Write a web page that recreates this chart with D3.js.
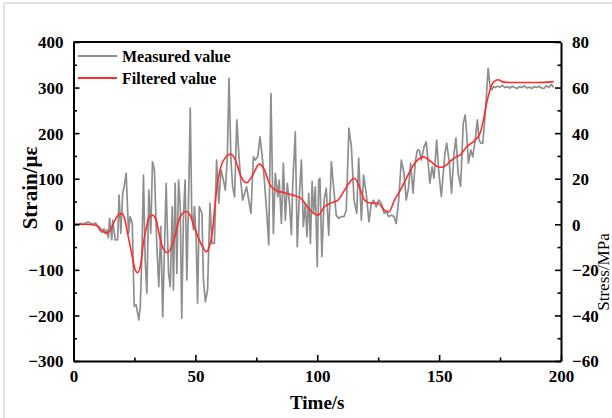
<!DOCTYPE html>
<html><head><meta charset="utf-8">
<script src="https://cdn.jsdelivr.net/npm/d3@7"></script>
<style>
html,body{margin:0;padding:0;background:#fff;}
svg{display:block;}
text{font-family:"Liberation Serif","Times New Roman",serif;}
</style></head>
<body>
<script>
// ---- Data ----
const measuredTime = [0,1,2,3,4,5,6,7,8,9,10,10.5,11.2,11.8,12.5,13.1,13.7,14.3,14.8,15.7,16.1,17.1,18.1,18.7,19.4,20.2,20.8,21.6,22.6,23.2,24.1,24.9,25.7,26.3,26.8,27.4,28,28.7,29.4,30.1,30.9,31.7,32.4,33.2,34.2,35,35.8,36.6,37.2,38,39,39.7,40.5,41,41.7,42.4,43.1,43.8,44.4,45.1,45.8,46.5,47.2,47.9,48.5,49.2,49.6,50.3,50.9,51.6,52.7,53.3,54.1,55,56,56.8,57.8,58.7,59.6,60.5,61.5,62.3,63.1,63.8,64.6,65.3,66.1,67,67.8,68.6,69.4,70.2,71,71.9,72.8,73.8,74.6,75.6,76.5,77.3,78.3,79.3,80.1,81,82,82.8,83.8,84.4,85.3,86.1,86.9,87.7,88.6,89.4,89.9,91,91.8,92.7,93.5,94.3,95.1,95.8,96.5,97.2,97.9,98.5,99.2,100,100.6,101.1,101.9,102.8,103.7,104.7,105.8,106.7,107.8,108.8,109.9,111,111.9,113,114,115.1,116.2,117,118.1,119,120.1,121.2,122.2,123.1,124.2,125.2,126.3,127.4,128.3,129.3,130.4,131.5,132.4,133.4,134.5,135.6,136.5,137.5,138.3,139.3,140.2,141.1,141.9,142.7,143.8,144.7,145.4,146.2,147.1,147.9,149,149.8,150.9,152.4,153.1,154.2,155.1,156.1,156.9,157.8,158.8,159.9,160.7,161.3,162,163,163.8,164.8,165.7,166.4,167.1,167.9,168.6,169.3,170.1,170.9,171.6,172.3,173,174,175,176,177,178,179,180,181,182,183,184,185,186,187,188,189,190,191,192,193,194,195,196,197];
const measuredStrain = [0,1,0,2,-1,3,5,2,0,3,-4,-12,-15,-18,-10,-20,-12,-30,13,-34,9,-34,-34,64,-20,68,83,112,-20,17,2,-180,-177,-195,-210,-180,-78,108,-78,-151,75,-20,137,119,-49,-137,-5,-203,-78,90,-108,-137,38,-144,90,-108,97,38,-206,17,97,-122,53,255,24,-12,39,-27,-173,39,24,-122,-170,-144,46,-42,-42,141,46,119,97,75,148,320,141,82,60,229,156,97,53,68,82,53,24,148,141,148,192,156,97,24,-45,287,-20,112,60,97,2,134,9,90,46,-23,82,203,-49,68,141,-5,46,-27,68,-42,94,24,82,-93,97,101,-71,53,79,-24,137,82,20,13,17,17,31,211,170,53,24,145,9,108,68,6,46,53,38,53,46,24,28,17,20,17,2,53,141,112,53,82,134,68,137,163,163,141,170,181,141,90,126,101,185,119,61,156,178,134,68,156,189,112,83,222,240,200,134,163,148,185,229,185,178,178,222,273,342,302,295,302,300,303,301,305,300,302,299,303,300,298,302,300,304,299,301,298,302,300,303,299,298,304,300,307,300];

const filteredTime = [0,5,8,10.3,12,13.7,15,16.4,18,19.8,21,22,23.9,25.2,26.3,27.5,28.7,30,30.8,32.4,34,35,36.2,38.3,40,41.5,43.8,46.2,47.6,49,50.9,52.5,54.4,55.8,57,58.5,60.5,62.6,64.6,66.5,68.7,71,73.5,76.2,78.3,80.3,83,85.8,89.9,93.3,96,98.8,100.3,103,105.8,108.5,111.2,114,115.3,117.4,119.4,122.2,124.9,127.6,129.3,131.7,134.5,137.2,140,143.4,146.8,148.8,151.2,153,155,157,158.6,161.3,164.8,166.8,168.2,169.5,170.9,172.3,174.3,176.4,180,190,197];
const filteredStrain = [0,0,-1,-5,-15,-20,-14,2,18,24,12,-15,-65,-98,-106,-90,-40,-5,13,20,8,-18,-45,-62,-52,-28,17,28,22,3,-25,-45,-60,-48,-15,68,127,148,154,140,105,91,108,132,120,90,74,70,64,57,38,23,20,39,47,53,75,97,101,80,53,46,46,31,27,53,79,108,134,148,137,128,125,130,140,148,152,170,185,200,229,266,295,312,317,312,311,311,313];

const strainTicks = [-300,-200,-100,0,100,200,300,400];
const stressTicks = [-60,-40,-20,0,20,40,60,80];
const timeTicks = [0,50,100,150,200];
const legendLabels = ["Measured value","Filtered value"];

// ---- Layout ----
const W = 612, H = 418;
const m = {left:73.5, right:561, top:42, bottom:361};
const svg = d3.select("body").append("svg").attr("width",W).attr("height",H);

// faint outer frame
svg.append("line").attr("x1",4).attr("x2",4).attr("y1",3).attr("y2",H).attr("stroke","#d8d8d8").attr("stroke-width",1.5);
svg.append("line").attr("x1",4).attr("x2",W).attr("y1",3).attr("y2",3).attr("stroke","#d8d8d8").attr("stroke-width",1.5);

const x = d3.scaleLinear().domain([0,200]).range([m.left,m.right]);
const y = d3.scaleLinear().domain([-300,400]).range([m.bottom,m.top]);
const y2 = d3.scaleLinear().domain([-60,80]).range([m.bottom,m.top]);

svg.append("clipPath").attr("id","c").append("rect")
  .attr("x",m.left).attr("y",m.top).attr("width",m.right-m.left).attr("height",m.bottom-m.top);

const plot = svg.append("g").attr("clip-path","url(#c)");
const mData = measuredTime.map((t,i)=>[t,measuredStrain[i]]);
const fData = filteredTime.map((t,i)=>[t,filteredStrain[i]]);

plot.append("path").datum(mData)
  .attr("d", d3.line().x(d=>x(d[0])).y(d=>y(d[1])).curve(d3.curveLinear))
  .attr("fill","none").attr("stroke","#8e8e8e").attr("stroke-width",1.7).attr("stroke-linejoin","round");
plot.append("path").datum(fData)
  .attr("d", d3.line().x(d=>x(d[0])).y(d=>y(d[1])).curve(d3.curveMonotoneX))
  .attr("fill","none").attr("stroke","#ff2b2b").attr("stroke-width",1.6);

// ---- Axes ----
const fontSize = 17;
function styleAxis(g){
  g.select(".domain").attr("stroke","#000").attr("stroke-width",2);
  g.selectAll(".tick line").attr("stroke","#000").attr("stroke-width",1.6);
  g.selectAll("text").attr("font-size",fontSize).attr("font-weight","bold").attr("fill","#000")
    .style("font-family","'Liberation Serif','Times New Roman',serif");
}
// left
const gl = svg.append("g").attr("transform",`translate(${m.left},0)`)
  .call(d3.axisLeft(y).tickValues(strainTicks).tickSizeInner(-6).tickSizeOuter(0).tickPadding(10));
styleAxis(gl);
gl.selectAll("text").attr("dy","0.35em");
svg.append("g").attr("transform",`translate(${m.left},0)`)
  .call(d3.axisLeft(y).tickValues(d3.range(-250,400,100)).tickSizeInner(-3.5).tickSizeOuter(0).tickFormat(""))
  .call(g=>{g.select(".domain").remove(); g.selectAll("line").attr("stroke","#000").attr("stroke-width",1.6);});

// right
const gr = svg.append("g").attr("transform",`translate(${m.right},0)`)
  .call(d3.axisRight(y2).tickValues(stressTicks).tickSizeInner(-6).tickSizeOuter(0).tickPadding(11));
styleAxis(gr);
gr.selectAll("text").attr("dy","0.35em");
svg.append("g").attr("transform",`translate(${m.right},0)`)
  .call(d3.axisRight(y2).tickValues(d3.range(-50,80,20)).tickSizeInner(-3.5).tickSizeOuter(0).tickFormat(""))
  .call(g=>{g.select(".domain").remove(); g.selectAll("line").attr("stroke","#000").attr("stroke-width",1.6);});

// bottom
const gb = svg.append("g").attr("transform",`translate(0,${m.bottom})`)
  .call(d3.axisBottom(x).tickValues(timeTicks).tickSizeInner(-6).tickSizeOuter(0).tickPadding(9));
styleAxis(gb);
svg.append("g").attr("transform",`translate(0,${m.bottom})`)
  .call(d3.axisBottom(x).tickValues(d3.range(25,200,50)).tickSizeInner(-3.5).tickSizeOuter(0).tickFormat(""))
  .call(g=>{g.select(".domain").remove(); g.selectAll("line").attr("stroke","#000").attr("stroke-width",1.6);});

// top border
svg.append("line").attr("x1",m.left).attr("x2",m.right).attr("y1",m.top).attr("y2",m.top)
  .attr("stroke","#000").attr("stroke-width",2);

// ---- Axis titles ----
svg.append("text").attr("transform",`translate(30,188) rotate(-90)`)
  .attr("text-anchor","middle").attr("dy","0.35em").attr("font-size",21).attr("font-weight","bold")
  .text("Strain/\u03bc\u03b5");
svg.append("text").attr("transform",`translate(603,272) rotate(-90)`)
  .attr("text-anchor","middle").attr("dy","0.33em").attr("font-size",17)
  .text("Stress/MPa");
svg.append("text").attr("x",(m.left+m.right)/2).attr("y",409)
  .attr("text-anchor","middle").attr("font-size",19).attr("font-weight","bold")
  .text("Time/s");

// ---- Legend ----
const legendColors = ["#8e8e8e","#ff2b2b"];
const lg = svg.append("g");
legendLabels.forEach((lab,i)=>{
  const yy = 56 + i*22;
  lg.append("line").attr("x1",78).attr("x2",117).attr("y1",yy).attr("y2",yy)
    .attr("stroke",legendColors[i]).attr("stroke-width",1.8);
  lg.append("text").attr("x",122).attr("y",yy).attr("dy","0.35em")
    .attr("font-size",16).attr("font-weight","bold").text(lab);
});
</script>
</body></html>
